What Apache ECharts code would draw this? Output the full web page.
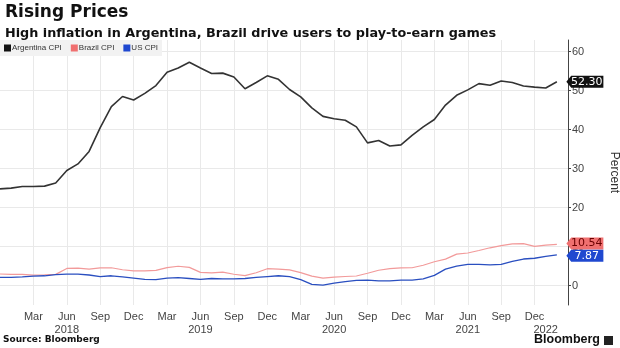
<!DOCTYPE html>
<html>
<head>
<meta charset="utf-8">
<script src="https://cdn.jsdelivr.net/npm/echarts@6/dist/echarts.min.js"></script>
<style>
html,body{margin:0;padding:0;background:#fff;}
#chart{width:620px;height:348px;}
</style>
</head>
<body>
<div id="chart"></div>
<script>
const months = [
  '2017-12',
  '2018-01','2018-02','2018-03','2018-04','2018-05','2018-06','2018-07','2018-08','2018-09','2018-10','2018-11','2018-12',
  '2019-01','2019-02','2019-03','2019-04','2019-05','2019-06','2019-07','2019-08','2019-09','2019-10','2019-11','2019-12',
  '2020-01','2020-02','2020-03','2020-04','2020-05','2020-06','2020-07','2020-08','2020-09','2020-10','2020-11','2020-12',
  '2021-01','2021-02','2021-03','2021-04','2021-05','2021-06','2021-07','2021-08','2021-09','2021-10','2021-11','2021-12',
  '2022-01','2022-02','2022-03'
];
const argentinaCPI = [24.8,
  25.0,25.4,25.4,25.5,26.3,29.5,31.2,34.4,40.5,45.9,48.5,47.6,
  49.3,51.3,54.7,55.8,57.3,55.8,54.4,54.5,53.5,50.5,52.1,53.8,
  52.9,50.3,48.4,45.6,43.4,42.8,42.4,40.7,36.6,37.2,35.8,36.1,
  38.5,40.7,42.6,46.3,48.8,50.2,51.8,51.4,52.5,52.1,51.2,50.9,
  50.7,52.3,null];
const brazilCPI = [2.95,
  2.86,2.84,2.68,2.76,2.86,4.39,4.48,4.19,4.53,4.56,4.05,3.75,
  3.78,3.89,4.58,4.94,4.66,3.37,3.22,3.43,2.89,2.54,3.27,4.31,
  4.19,4.01,3.30,2.40,1.88,2.13,2.31,2.44,3.14,3.92,4.31,4.52,
  4.56,5.20,6.10,6.76,8.06,8.35,8.99,9.68,10.25,10.67,10.74,10.06,
  10.38,10.54,null];
const usCPI = [2.1,
  2.1,2.2,2.4,2.5,2.8,2.9,2.9,2.7,2.3,2.5,2.2,1.9,
  1.6,1.5,1.9,2.0,1.8,1.6,1.8,1.7,1.7,1.8,2.1,2.3,
  2.5,2.3,1.5,0.3,0.1,0.6,1.0,1.3,1.4,1.2,1.2,1.4,
  1.4,1.7,2.6,4.2,5.0,5.4,5.4,5.3,5.4,6.2,6.8,7.0,
  7.5,7.87,null];
const xTickLabels = {
  '2018-03':'Mar','2018-06':'Jun\n2018','2018-09':'Sep','2018-12':'Dec',
  '2019-03':'Mar','2019-06':'Jun\n2019','2019-09':'Sep','2019-12':'Dec',
  '2020-03':'Mar','2020-06':'Jun\n2020','2020-09':'Sep','2020-12':'Dec',
  '2021-03':'Mar','2021-06':'Jun\n2021','2021-09':'Sep','2021-12':'Dec'
};
const yearOnlyLabels = {'2022-01':'\n2022'};
const gridMonths = ['2018-03','2018-06','2018-09','2018-12','2019-03','2019-06','2019-09','2019-12',
  '2020-03','2020-06','2020-09','2020-12','2021-03','2021-06','2021-09','2021-12'];
const yTicks = [0,10,20,30,40,50,60];

const chart = echarts.init(document.getElementById('chart'), null, {renderer:'canvas'});
const FONT = 'DejaVu Sans';
const lastIdx = argentinaCPI.length - 2;

function tag(data, color, textColor, dy) {
  return {
    symbol: 'path://M0,6 L5,0 L38,0 L38,12 L5,12 Z',
    symbolSize: [37, 12],
    symbolKeepAspect: false,
    silent: true,
    data: [{
      coord: [lastIdx, data[lastIdx]],
      value: data[lastIdx],
      symbolOffset: [28, dy],
      itemStyle: {color: color},
      label: {
        show: true, position: 'inside', offset: [2, 0],
        formatter: () => data[lastIdx].toFixed(2),
        color: textColor, fontFamily: FONT, fontSize: 11
      }
    }]
  };
}

const xLabelStyle = {color: '#444', fontSize: 11, lineHeight: 13, margin: 5, fontFamily: 'Liberation Sans',
  hideOverlap: false};

chart.setOption({
  animation: false,
  backgroundColor: '#fff',
  textStyle: {fontFamily: FONT},
  title: [
    {text: 'Rising Prices', left: 0, top: -1,
     textStyle: {fontFamily: FONT, fontWeight: 'bold', fontSize: 17, color: '#111'}},
    {text: 'High inflation in Argentina, Brazil drive users to play-to-earn games', left: 0, top: 22,
     textStyle: {fontFamily: FONT, fontWeight: 'bold', fontSize: 12.8, color: '#111'}}
  ],
  legend: {
    left: 0, top: 40, padding: [4, 4, 4, 4],
    backgroundColor: '#f2f2f2',
    itemWidth: 7, itemHeight: 7, itemGap: 9,
    icon: 'rect',
    textStyle: {fontFamily: 'Liberation Sans', fontSize: 8, color: '#333', padding: [0,0,0,-4]},
    data: ['Argentina CPI', 'Brazil CPI', 'US CPI']
  },
  grid: {left: 0, right: 52, top: 40, bottom: 43, containLabel: false, outerBoundsMode: 'none'},
  xAxis: [{
    type: 'category', data: months, boundaryGap: false, position: 'bottom',
    axisLine: {show: false}, axisTick: {show: false},
    axisLabel: Object.assign({
      interval: (i, v) => xTickLabels[v] !== undefined,
      formatter: v => xTickLabels[v] || ''
    }, xLabelStyle),
    splitLine: {show: true, interval: (i, v) => gridMonths.indexOf(v) >= 0,
      lineStyle: {color: '#e9e9e9', width: 1}}
  }, {
    type: 'category', data: months, boundaryGap: false, position: 'bottom', offset: 0,
    axisLine: {show: false}, axisTick: {show: false}, splitLine: {show: false},
    axisLabel: Object.assign({
      interval: (i, v) => yearOnlyLabels[v] !== undefined,
      formatter: v => yearOnlyLabels[v] || '',
      showMaxLabel: true, showMinLabel: true
    }, xLabelStyle)
  }],
  yAxis: {
    type: 'value', position: 'right', min: -5, max: 63, interval: 5,
    name: 'Percent', nameLocation: 'middle', nameRotate: -90, nameGap: 40,
    nameTextStyle: {fontFamily: 'Liberation Sans', fontSize: 12, color: '#333'},
    axisLine: {show: true, lineStyle: {color: '#444', width: 1}},
    axisTick: {show: true, length: 3, inside: false, customValues: yTicks, lineStyle: {color: '#444'}},
    axisLabel: {customValues: yTicks, color: '#444', fontSize: 11, margin: 4, fontFamily: 'Liberation Sans'},
    splitLine: {show: true, lineStyle: {color: '#e9e9e9', width: 1}}
  },
  series: [
    {name: 'Argentina CPI', type: 'line', data: argentinaCPI, showSymbol: false, symbol: 'none',
     lineStyle: {color: '#333333', width: 1.6}, itemStyle: {color: '#111'}, z: 4,
     markPoint: tag(argentinaCPI, '#111111', '#ffffff', 0)},
    {name: 'Brazil CPI', type: 'line', data: brazilCPI, showSymbol: false, symbol: 'none',
     lineStyle: {color: '#f29a9a', width: 1.2}, itemStyle: {color: '#f07070'}, z: 3,
     markPoint: tag(brazilCPI, '#f07070', '#6b0000', -1)},
    {name: 'US CPI', type: 'line', data: usCPI, showSymbol: false, symbol: 'none',
     lineStyle: {color: '#2a4fc0', width: 1.3}, itemStyle: {color: '#1f48d0'}, z: 3,
     markPoint: tag(usCPI, '#1f48d0', '#ffffff', 1)}
  ],
  graphic: [
    {type: 'text', left: 3, top: 335,
     style: {text: 'Source: Bloomberg', font: 'bold 9px "DejaVu Sans"', fill: '#111'}},
    {type: 'text', right: 20, top: 333,
     style: {text: 'Bloomberg', font: 'bold 12.5px "Liberation Sans"', fill: '#111'}},
    {type: 'rect', right: 7, top: 336, shape: {width: 9, height: 9}, style: {fill: '#222'}}
  ]
});
</script>
</body>
</html>
